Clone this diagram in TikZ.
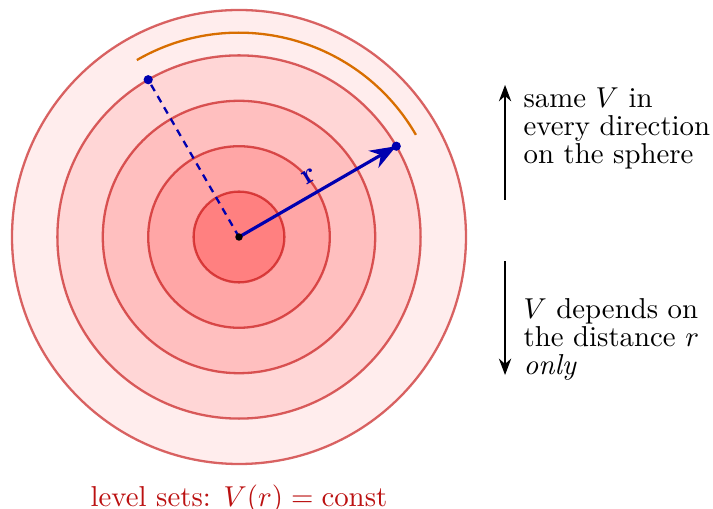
\documentclass[tikz,border=0pt]{standalone}
\usepackage{amsmath}
\usetikzlibrary{arrows.meta}
\definecolor{RingLine}{HTML}{BF0000}
\definecolor{Radius}{HTML}{0000B0}
\definecolor{Arc}{HTML}{D86E00}
\definecolor{Label}{HTML}{BB1111}

\begin{document}
\begin{tikzpicture}[x=0.554cm, y=0.554cm, >=Stealth]
    \useasboundingbox (-5.264,-5.99) rectangle (10.44,5.22);
    \coordinate (O) at (0,0);
    \coordinate (P) at (30:4);
    \coordinate (Q) at (120:4);
    % level sets, outside in
    \foreach \rad/\shade in {5/7, 4/16, 3/25, 2/35, 1/50} {
      \draw[fill=red!\shade, draw=RingLine, draw opacity=0.6, thick] (O) circle[radius=\rad];
    }
    \draw[color=Arc, thick] (30:4.5) arc[start angle=30, end angle=120, radius=4.5];
    \draw[color=Radius, thick, dash pattern=on 2.5pt off 2pt] (O) -- (Q);
    \draw[-{Stealth[length=3.2mm, width=2.4mm]}, color=Radius, line width=1.1pt] (O) -- node[midway, sloped, above] {$\mathbf{r}$} (P);
    \fill[color=Radius] (P) circle[radius=1.6pt];
    \fill[color=Radius] (Q) circle[radius=1.6pt];
    \fill[color=black] (O) circle[radius=1.3pt];
    % side notes
    \coordinate (up0) at (5.86,0.815);
    \coordinate (up1) at (5.86,3.35);
    \coordinate (dn0) at (5.86,-0.53);
    \coordinate (dn1) at (5.86,-3.04);
    \draw[->, semithick] (up0) -- (up1);
    \draw[->, semithick] (dn0) -- (dn1);
    \node[anchor=north west, inner sep=0pt, align=left, font=\fontsize{10}{9.7}\selectfont] (same) at (6.256,3.29) {same $V$ in\\ every direction\\ on the sphere};
    \node[anchor=north west, inner sep=0pt, align=left, font=\fontsize{10}{9.7}\selectfont] (only) at (6.256,-1.35) {$V$ depends on\\ the distance $r$\\ \textit{only}};
    \node[anchor=base, color=Label, inner sep=0pt] (lvl) at (0,-5.925) {level sets: $V(r)=\text{const}$};
  \end{tikzpicture}
\end{document}
